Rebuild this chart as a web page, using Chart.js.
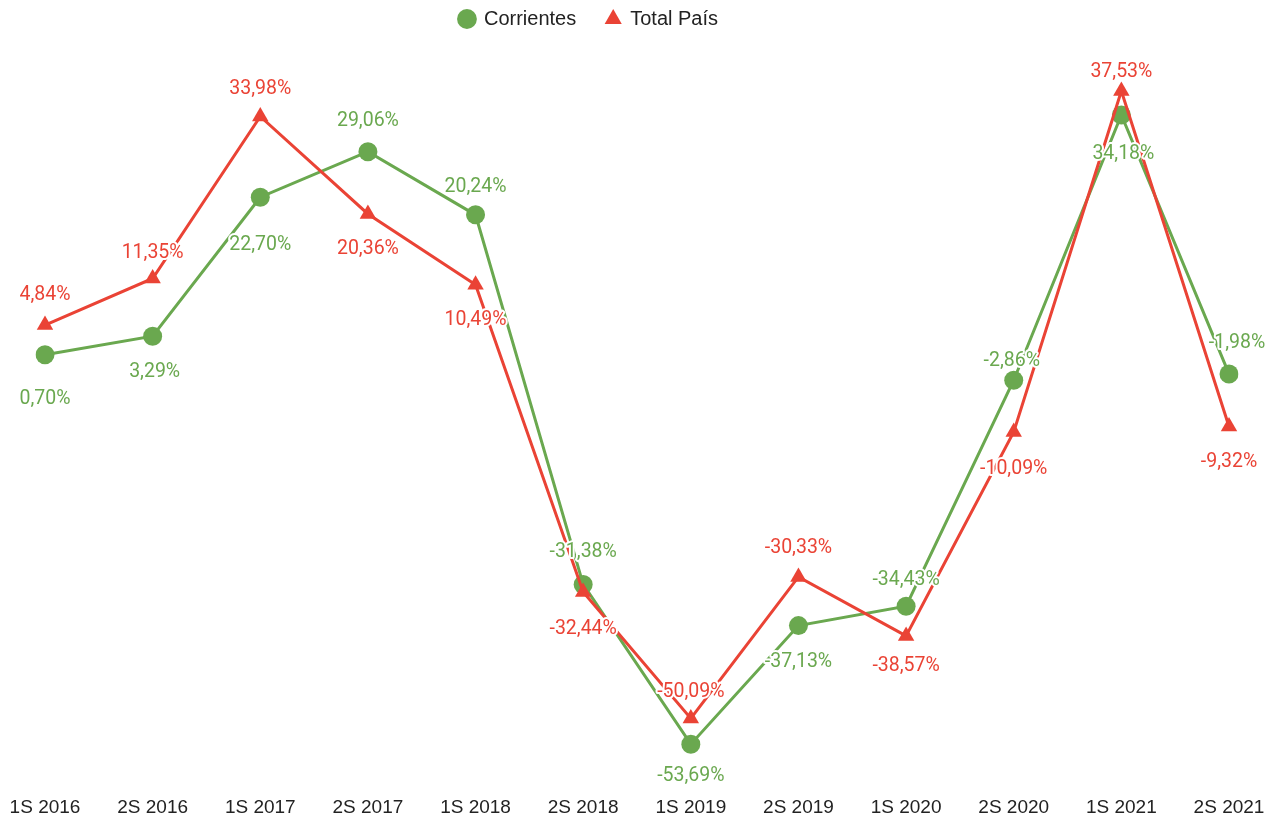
<!DOCTYPE html>
<html>
<head>
<meta charset="utf-8">
<script src="https://cdn.jsdelivr.net/npm/chart.js@4"></script>
<style>
  html, body { margin: 0; padding: 0; background: #fff; }
  #wrap { width: 1281px; height: 823px; }
</style>
</head>
<body>
<div id="wrap"><canvas id="chart"></canvas></div>
<script>
// Semesters shown on the x axis
const periods = ['1S 2016', '2S 2016', '1S 2017', '2S 2017', '1S 2018', '2S 2018',
                 '1S 2019', '2S 2019', '1S 2020', '2S 2020', '1S 2021', '2S 2021'];

// Variation (%) per semester
const corrientes = [0.70, 3.29, 22.70, 29.06, 20.24, -31.38, -53.69, -37.13, -34.43, -2.86, 34.18, -1.98];
const totalPais = [4.84, 11.35, 33.98, 20.36, 10.49, -32.44, -50.09, -30.33, -38.57, -10.09, 37.53, -9.32];

// Where each value label sits relative to its point (px)
const corrLabelDy = [44, 36, 48, -31, -28, -32, 32, 37, -26, -19, 39, -31];
const corrLabelDx = [0, 2, 0, 0, 0, 0, 0, 0, 0, -2, 2, 8];
const totalLabelDy = [-30, -25, -27, 35, 35, 37, -26, -29, 30, 37, -19, 36];
const totalLabelDx = [0, 0, 0, 0, 0, 0, 0, 0, 0, 0, 0, 0];

const GREEN = '#6aa84f';
const RED = '#ea4335';

function fmt(v) {
  return v.toFixed(2).replace('.', ',') + '%';
}

// Simple value labels with a white halo
const valueLabels = {
  id: 'valueLabels',
  afterDatasetsDraw(chart) {
    const ctx = chart.ctx;
    ctx.save();
    ctx.font = '19.5px Roboto';
    ctx.textAlign = 'center';
    ctx.textBaseline = 'middle';
    ctx.lineJoin = 'round';
    chart.data.datasets.forEach((ds, i) => {
      const meta = chart.getDatasetMeta(i);
      meta.data.forEach((pt, j) => {
        const x = pt.x + ds.labelDx[j];
        const y = pt.y + ds.labelDy[j];
        const txt = fmt(ds.data[j]);
        ctx.lineWidth = 4;
        ctx.strokeStyle = '#fff';
        ctx.strokeText(txt, x, y);
        ctx.fillStyle = ds.borderColor;
        ctx.fillText(txt, x, y);
      });
    });
    ctx.restore();
  }
};

// The legend in the original sits a bit left of centre
const shiftLegend = {
  id: 'shiftLegend',
  afterLayout(chart) {
    const lg = chart.legend;
    lg.left -= 48;
    lg.right -= 48;
  }
};

new Chart(document.getElementById('chart'), {
  type: 'line',
  data: {
    labels: periods,
    datasets: [
      {
        label: 'Corrientes',
        data: corrientes,
        borderColor: GREEN,
        backgroundColor: GREEN,
        borderWidth: 3,
        pointStyle: 'circle',
        pointRadius: 9.5,
        pointBorderWidth: 0,
        tension: 0,
        order: 1,
        labelDy: corrLabelDy,
        labelDx: corrLabelDx
      },
      {
        label: 'Total País',
        data: totalPais,
        borderColor: RED,
        backgroundColor: RED,
        borderWidth: 3,
        pointStyle: 'triangle',
        pointRadius: 9.5,
        pointBorderWidth: 0,
        tension: 0,
        order: 0,
        labelDy: totalLabelDy,
        labelDx: totalLabelDx
      }
    ]
  },
  options: {
    responsive: true,
    maintainAspectRatio: false,
    animation: false,
    layout: { padding: { left: 45, right: 52, top: -21, bottom: 0 } },
    plugins: {
      legend: {
        position: 'top',
        labels: {
          usePointStyle: true,
          boxWidth: 14,
          boxHeight: 14,
          padding: 30,
          color: '#222',
          font: { family: 'Liberation Sans, Arial, sans-serif', size: 20 },
          sort: (a, b) => a.datasetIndex - b.datasetIndex
        }
      },
      tooltip: { enabled: false }
    },
    scales: {
      x: {
        offset: false,
        grid: { display: false, drawTicks: false },
        border: { display: false },
        ticks: {
          color: '#222',
          padding: 4,
          maxRotation: 0,
          font: { family: 'Liberation Sans, Arial, sans-serif', size: 19 }
        }
      },
      y: {
        display: false,
        min: -60.4,
        max: 44.8
      }
    }
  },
  plugins: [valueLabels, shiftLegend]
});
</script>
</body>
</html>
